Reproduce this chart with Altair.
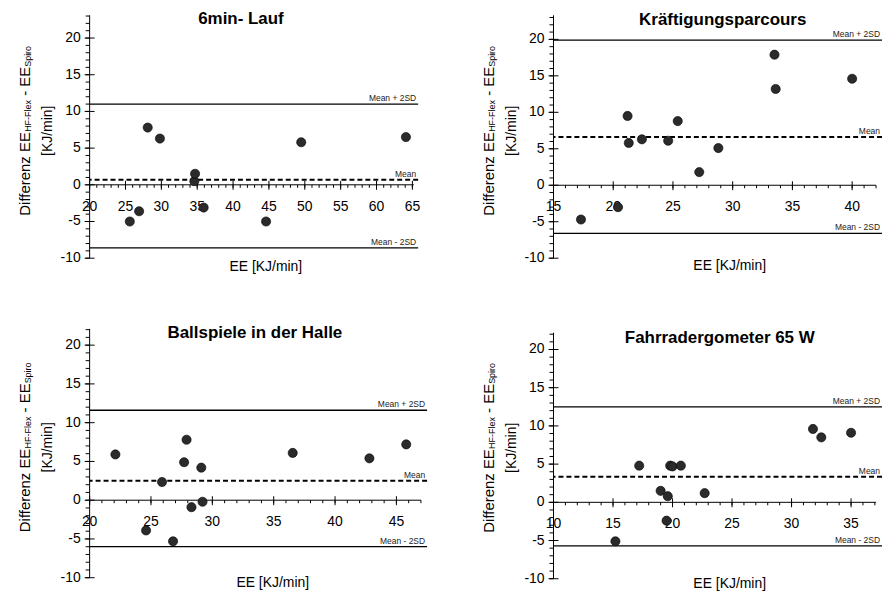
import altair as alt
import pandas as pd

FONT = "Liberation Sans"
INK = "#000000"
DOT = "#2b2b2b"

# ---------------- data ----------------
TITLES = ["6min- Lauf", "Kräftigungsparcours", "Ballspiele in der Halle", "Fahrradergometer 65 W"]

P1_EE = [25.6, 26.9, 28.1, 29.8, 34.6, 34.7, 35.9, 44.6, 49.5, 64.1]
P1_DIFF = [-5.0, -3.6, 7.8, 6.3, 0.5, 1.5, -3.1, -5.0, 5.8, 6.5]
P1_LIMITS = [11.0, 0.7, -8.6]

P2_EE = [17.3, 20.4, 21.2, 21.3, 22.4, 24.6, 25.4, 27.2, 28.8, 33.5, 33.6, 40.0]
P2_DIFF = [-4.7, -3.0, 9.5, 5.8, 6.3, 6.1, 8.8, 1.8, 5.1, 17.9, 13.2, 14.6]
P2_LIMITS = [19.9, 6.6, -6.6]

P3_EE = [22.1, 24.6, 25.9, 26.8, 27.7, 27.9, 28.3, 29.1, 29.2, 36.55, 42.8, 45.8]
P3_DIFF = [5.9, -3.9, 2.35, -5.3, 4.9, 7.8, -0.9, 4.2, -0.2, 6.1, 5.4, 7.2]
P3_LIMITS = [11.6, 2.5, -6.0]

P4_EE = [15.2, 17.2, 19.0, 19.5, 19.6, 19.8, 20.0, 20.7, 22.7, 31.8, 32.5, 35.0]
P4_DIFF = [-5.1, 4.8, 1.5, -2.4, 0.8, 4.8, 4.7, 4.8, 1.2, 9.6, 8.5, 9.1]
P4_LIMITS = [12.5, 3.35, -5.7]

LIMIT_LABELS = ["Mean + 2SD", "Mean", "Mean - 2SD"]

P1_X_TICKS = [20, 25, 30, 35, 40, 45, 50, 55, 60, 65]
P2_X_TICKS = [15, 20, 25, 30, 35, 40]
P3_X_TICKS = [20, 25, 30, 35, 40, 45]
P4_X_TICKS = [10, 15, 20, 25, 30, 35]
Y_TICKS = [-10, -5, 0, 5, 10, 15, 20]

X_TITLE = "EE [KJ/min]"
Y_TITLE_SEGMENTS = [("Differenz EE", False), ("HF-Flex", True), (" - EE", False), ("Spiro", True)]
Y_TITLE_LINE2 = "[KJ/min]"

# ---------------- layout ----------------
LAYOUT = [
    dict(w=330, h=244, xdom=[20, 65.8], ydom=[-10, 23.1], xend=65.2, ytop=23.1, tpos=(152, 4), xtpos=(177, 253)),
    dict(w=330, h=244, xdom=[15, 42.5], ydom=[-10, 23.3], xend=42.0, ytop=23.3, tpos=(170, 5), xtpos=(177, 252)),
    dict(w=339, h=250, xdom=[20, 47.5], ydom=[-10, 22.1], xend=47.0, ytop=22.1, tpos=(166, 4), xtpos=(184, 255)),
    dict(w=330, h=251, xdom=[10, 37.6], ydom=[-10, 22.7], xend=37.1, ytop=22.2, tpos=(167, 9), xtpos=(177, 256)),
]

W_EM = {"D": .722, "i": .222, "f": .278, "e": .556, "r": .333, "n": .556, "z": .5, " ": .278,
        "E": .667, "H": .722, "F": .611, "-": .333, "l": .222, "x": .5, "S": .667, "p": .556, "o": .556}


def tw(s, fs):
    return sum(W_EM.get(c, 0.55) for c in s) * fs


def panel(title, ee, diff, limits, xticks, lay):
    W, H = lay["w"], lay["h"]
    x0, x1 = lay["xdom"]
    y0, y1 = lay["ydom"]
    xs = alt.Scale(domain=[x0, x1], nice=False, zero=False)
    ys = alt.Scale(domain=[y0, y1], nice=False, zero=False)
    one = pd.DataFrame({"k": [0]})

    def xf(f):
        return alt.X(f, type="quantitative", scale=xs, axis=None)

    def yf(f):
        return alt.Y(f, type="quantitative", scale=ys, axis=None)

    def xd(v):
        return alt.XDatum(datum=v, type="quantitative", scale=xs, axis=None)

    def yd(v):
        return alt.YDatum(datum=v, type="quantitative", scale=ys, axis=None)

    L = []
    # axis lines
    L.append(alt.Chart(one).mark_rule(color=INK, strokeWidth=1).encode(
        x=xd(x0), y=yd(-10), y2=alt.Y2Datum(datum=lay["ytop"])))
    L.append(alt.Chart(one).mark_rule(color=INK, strokeWidth=1).encode(
        x=xd(x0), x2=alt.X2Datum(datum=lay["xend"]), y=yd(0)))

    ymaj = pd.DataFrame({"v": Y_TICKS, "lab": [str(v) for v in Y_TICKS]})
    ymin = pd.DataFrame({"v": list(range(-10, int(lay["ytop"]) + 1))})
    xmaj = pd.DataFrame({"v": xticks, "lab": [str(v) for v in xticks]})
    xmin = pd.DataFrame({"v": list(range(xticks[0], int(lay["xend"]) + 1))})

    L.append(alt.Chart(ymaj).mark_rule(color=INK, xOffset=-5, x2Offset=5).encode(
        x=xd(x0), x2=alt.X2Datum(datum=x0), y=yf("v")))
    L.append(alt.Chart(ymin).mark_rule(color=INK, xOffset=-4).encode(
        x=xd(x0), x2=alt.X2Datum(datum=x0), y=yf("v")))
    L.append(alt.Chart(xmaj).mark_rule(color=INK, yOffset=5, y2Offset=-4).encode(
        x=xf("v"), y=yd(0), y2=alt.Y2Datum(datum=0)))
    L.append(alt.Chart(xmin).mark_rule(color=INK, yOffset=3).encode(
        x=xf("v"), y=yd(0), y2=alt.Y2Datum(datum=0)))

    # tick labels
    L.append(alt.Chart(ymaj).mark_text(align="right", baseline="middle", dx=-9, font=FONT,
                                       fontSize=14, color=INK).encode(
        x=xd(x0), y=yf("v"), text="lab:N"))
    L.append(alt.Chart(xmaj).mark_text(align="center", baseline="middle", dy=22, font=FONT,
                                       fontSize=14, color=INK).encode(
        x=xf("v"), y=yd(0), text="lab:N"))

    # limit lines
    lim = pd.DataFrame({"v": limits, "lab": LIMIT_LABELS})
    L.append(alt.Chart(lim.iloc[[0, 2]]).mark_rule(color=INK, strokeWidth=1.3).encode(y=yf("v")))
    L.append(alt.Chart(lim.iloc[[1]]).mark_rule(color=INK, strokeWidth=2, strokeDash=[5, 3]).encode(y=yf("v")))
    L.append(alt.Chart(lim).mark_text(align="right", baseline="alphabetic", dx=-2, dy=-3, font=FONT,
                                      fontSize=8.5, color="#222222").encode(
        x=xd(x1), y=yf("v"), text="lab:N"))

    # points
    pts = pd.DataFrame({"ee": ee, "diff": diff})
    L.append(alt.Chart(pts).mark_circle(size=85, color=DOT, opacity=1, stroke="#000000",
                                        strokeWidth=0.6).encode(x=xf("ee"), y=yf("diff")))

    # title
    L.append(alt.Chart(pd.DataFrame({"t": [title]})).mark_text(
        font=FONT, fontSize=17, fontWeight="bold", align="center", baseline="middle", color=INK).encode(
        x=alt.value(lay["tpos"][0]), y=alt.value(lay["tpos"][1]), text="t:N"))
    # x title
    L.append(alt.Chart(pd.DataFrame({"t": [X_TITLE]})).mark_text(
        font=FONT, fontSize=14, align="center", baseline="middle", color=INK).encode(
        x=alt.value(lay["xtpos"][0]), y=alt.value(lay["xtpos"][1]), text="t:N"))

    # y title (with subscripts)
    cy = H / 2 - 6
    F1, F2 = 15, 9
    total = sum(tw(s, F2 if sub else F1) for s, sub in Y_TITLE_SEGMENTS)
    ystart = cy + total / 2
    acc = 0
    for s, sub in Y_TITLE_SEGMENTS:
        fs = F2 if sub else F1
        lead = tw(s[: len(s) - len(s.lstrip())], fs)
        L.append(alt.Chart(pd.DataFrame({"t": [s.strip()]})).mark_text(
            font=FONT, fontSize=fs, angle=270, align="left", baseline="alphabetic", color=INK).encode(
            x=alt.value(-58.5 if sub else -60), y=alt.value(ystart - acc - lead), text="t:N"))
        acc += tw(s, fs)
    L.append(alt.Chart(pd.DataFrame({"t": [Y_TITLE_LINE2]})).mark_text(
        font=FONT, fontSize=14, angle=270, align="center", baseline="middle", color=INK).encode(
        x=alt.value(-42), y=alt.value(cy), text="t:N"))

    return alt.layer(*L).properties(width=W, height=H)


p1 = panel(TITLES[0], P1_EE, P1_DIFF, P1_LIMITS, P1_X_TICKS, LAYOUT[0])
p2 = panel(TITLES[1], P2_EE, P2_DIFF, P2_LIMITS, P2_X_TICKS, LAYOUT[1])
p3 = panel(TITLES[2], P3_EE, P3_DIFF, P3_LIMITS, P3_X_TICKS, LAYOUT[2])
p4 = panel(TITLES[3], P4_EE, P4_DIFF, P4_LIMITS, P4_X_TICKS, LAYOUT[3])

chart = alt.concat(p1, p2, p3, p4, columns=2, spacing={"row": 71, "column": 127},
                   bounds="flush", align="each").properties(
    padding={"left": 10, "top": 1, "right": 0, "bottom": 0},
    background="white",
).configure_view(stroke=None)

chart.save("out.html", embed_options={"renderer": "svg", "actions": False})
